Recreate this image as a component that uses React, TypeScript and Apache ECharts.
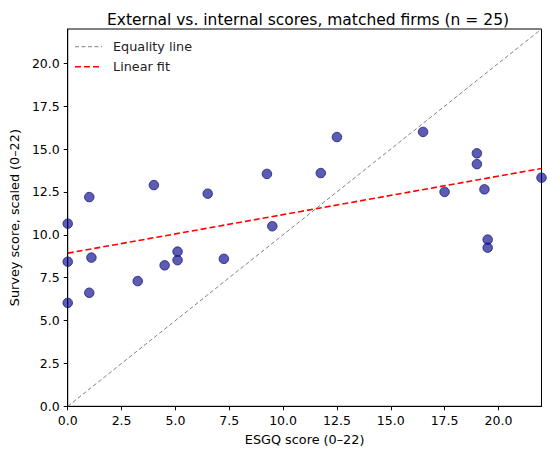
import React, { useEffect, useRef } from "react";
import * as echarts from "echarts";

const esgqScores = [1.0, 4.0, 6.5, 9.25, 0.0, 9.5, 0.0, 1.1, 1.0, 0.0, 3.25, 4.5, 5.1, 5.1, 7.25, 12.5, 11.75, 16.5, 19.0, 19.0, 17.5, 19.35, 19.5, 19.5, 22.0];
const surveyScores = [12.2, 12.9, 12.4, 13.55, 10.65, 10.5, 8.43, 8.67, 6.62, 6.03, 7.3, 8.22, 9.02, 8.52, 8.6, 15.7, 13.6, 16.0, 14.75, 14.12, 12.5, 12.65, 9.72, 9.25, 13.33];
const equalityLine = [[0, 0], [22, 22]];
const fitLine = [[0, 8.93], [22, 13.87]];
const legendNames = ["Equality line", "Linear fit"];
const titleText = "External vs. internal scores, matched firms (n = 25)";
const xName = "ESGQ score (0–22)";
const yName = "Survey score, scaled (0–22)";

const FONT = "DejaVu Sans";
const GRAY = "#808080";
const RED = "#ff0000";

export default function App() {
  const ref = useRef<HTMLDivElement>(null);
  useEffect(() => {
    if (!ref.current) return;
    const chart = echarts.init(ref.current, undefined, { renderer: "svg" });
    const points = esgqScores.map((x, i) => [x, surveyScores[i]]);
    const axisCommon = {
      min: 0,
      max: 22,
      interval: 2.5,
      axisLine: { show: true, lineStyle: { color: "#000", width: 1 } },
      axisTick: { show: true, inside: false, length: 4, lineStyle: { color: "#000" } },
      splitLine: { show: false },
      nameLocation: "middle" as const,
      nameTextStyle: { fontFamily: FONT, fontSize: 12.8, color: "#000" },
    };
    const labelCommon = {
      fontFamily: FONT,
      fontSize: 12.5,
      color: "#000",
      margin: 8,
      showMaxLabel: false,
      formatter: (v: number) => v.toFixed(1),
    };
    chart.setOption({
      animation: false,
      backgroundColor: "#fff",
      title: {
        text: titleText,
        left: 303,
        textAlign: "center",
        top: 7,
        textStyle: { fontFamily: FONT, fontSize: 15.5, fontWeight: "normal", color: "#000" },
      },
      grid: { left: 64, right: 8.5, top: 29, bottom: 47.7, show: true, borderColor: "#000", borderWidth: 1, backgroundColor: "transparent" },
      graphic: [
        { type: "line", shape: { x1: 75, y1: 46.7, x2: 102, y2: 46.7 }, style: { stroke: GRAY, lineWidth: 1, lineDash: [4, 2.5] }, z: 10 },
        { type: "text", x: 113, y: 46.7, style: { text: legendNames[0], fontFamily: FONT, fontSize: 12.8, fill: "#222", verticalAlign: "middle" }, z: 10 },
        { type: "line", shape: { x1: 75, y1: 66.7, x2: 102, y2: 66.7 }, style: { stroke: RED, lineWidth: 1.6, lineDash: [6, 3] }, z: 10 },
        { type: "text", x: 113, y: 66.7, style: { text: legendNames[1], fontFamily: FONT, fontSize: 12.8, fill: "#222", verticalAlign: "middle" }, z: 10 },
      ],
      xAxis: {
        type: "value",
        ...axisCommon,
        name: xName,
        nameGap: 27,
        axisLabel: labelCommon,
      },
      yAxis: {
        type: "value",
        ...axisCommon,
        name: yName,
        nameGap: 44,
        axisLabel: labelCommon,
      },
      series: [
        {
          name: legendNames[0],
          type: "line",
          data: equalityLine,
          symbol: "none",
          lineStyle: { color: GRAY, width: 1, type: [4, 2.5] },
          itemStyle: { color: GRAY },
          z: 2,
        },
        {
          name: legendNames[1],
          type: "line",
          data: fitLine,
          symbol: "none",
          lineStyle: { color: RED, width: 1.6, type: [6, 3] },
          itemStyle: { color: RED },
          z: 3,
        },
        {
          name: "Firms",
          type: "scatter",
          data: points,
          symbol: "circle",
          symbolSize: 9.5,
          itemStyle: { color: "rgba(0,0,139,0.8)", borderColor: "#1a1a78", borderWidth: 1 },
          z: 4,
        },
      ],
    });
    return () => chart.dispose();
  }, []);
  return <div ref={ref} style={{ position: "fixed", left: 0, top: 0, width: 550, height: 454 }} />;
}
